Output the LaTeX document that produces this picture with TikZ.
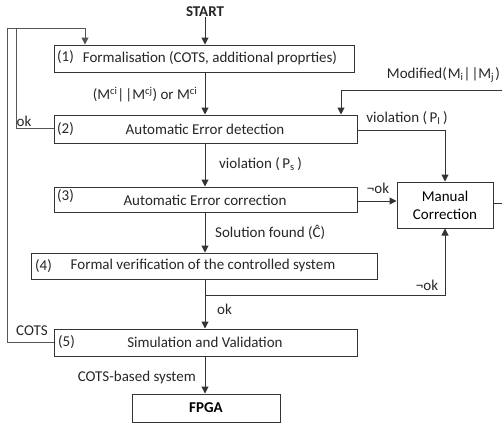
\documentclass[tikz,border=0pt]{standalone}
\usepackage{fontspec}
\setmainfont{Carlito}
\usetikzlibrary{arrows.meta}

\definecolor{linec}{HTML}{333333}
\definecolor{loopc}{HTML}{555555}

\begin{document}
\begin{tikzpicture}[x=1pt,y=-1pt,
  font=\fontsize{15}{17}\selectfont,
  box/.style={draw=linec, line width=1pt, inner sep=0pt},
  txt/.style={inner sep=0pt, text=black!85},
  num/.style={txt, anchor=west},
  conn/.style={draw=linec, line width=1pt},
  arr/.style={conn, -{Triangle[length=7pt,width=7pt]}},
  loopline/.style={draw=loopc, line width=1pt}]

\useasboundingbox (0,0) rectangle (502,423);

% process boxes
\node[box, minimum width=300pt, minimum height=27pt] (b1) at (204,58.5) {};
\node[box, minimum width=303pt, minimum height=28pt] (b2) at (205.5,129) {};
\node[box, minimum width=303pt, minimum height=25pt] (b3) at (205.5,199.5) {};
\node[box, minimum width=346pt, minimum height=26pt] (b4) at (204,266) {};
\node[box, minimum width=303pt, minimum height=27pt] (b5) at (205.5,342.5) {};
\node[box, minimum width=148pt, minimum height=28pt] (fpga) at (206,408) {\textbf{FPGA}};
\node[box, minimum width=96pt, minimum height=46pt, align=center] (mc) at (445,205) {Manual\\[1pt]Correction};

% box texts
\node[txt, font=\fontsize{15}{17}\selectfont\bfseries] (start) at (205,12) {START};
\node[num] (n1) at (57,57.5) {(1)};
\node[txt] (t1) at (210,58.5) {Formalisation (COTS, additional proprties)};
\node[num] (n2) at (57,129) {(2)};
\node[txt] (t2) at (205,129.5) {Automatic Error detection};
\node[num] (n3) at (57,196) {(3)};
\node[txt] (t3) at (205,200) {Automatic Error correction};
\node[num] (n4) at (35,266) {(4)};
\node[txt] (t4) at (203,265.5) {Formal verification of the controlled system};
\node[num] (n5) at (58,342) {(5)};
\node[txt] (t5) at (205,342) {Simulation and Validation};

% connector labels
\node[txt] (l1) at (145,95) {(M\textsuperscript{ci}|\kern1pt|M\textsuperscript{cj}) or M\textsuperscript{ci}};
\node[txt, anchor=west] (l2) at (219,164) {violation (\,P\textsubscript{s}\,)};
\node[txt, anchor=west] (l3) at (215,232) {Solution found (Ĉ)};
\node[txt, anchor=west] (l4) at (217,309) {ok};
\node[txt, anchor=east] (l5) at (196,377) {COTS-based system};
\node[txt] (l6) at (378,188) {¬ok};
\node[txt] (l7) at (427,285) {¬ok};
\node[txt] (l8) at (407,118) {violation (\,P\textsubscript{I}\,)};
\node[txt, anchor=east] (l9) at (500,75) {Modified(\kern1pt M\textsubscript{i}|\kern1pt|M\textsubscript{j}\kern1pt)};
\node[txt] (l10) at (24,121) {ok};
\node[txt] (l11) at (32,331) {COTS};

% routing points
\coordinate (j) at (205,295);
\coordinate (tl) at (7,28);
\coordinate (ti) at (16,28);
\coordinate (ta) at (85,28);
\coordinate (re) at (503,90);
\coordinate (ma) at (341,90);

% main flow
\draw[arr] (start) -- (b1.north -| start);
\draw[arr] (b1.south -| start) -- (b2.north -| start);
\draw[arr] (b2.south -| start) -- (b3.north -| start);
\draw[arr] (b3.south -| start) -- (b4.north -| start);
\draw[arr] (b4.south -| start) -- (b5.north -| start);
\draw[arr] (b5.south -| start) -- (fpga.north -| start);

% manual correction branch
\draw[arr] (b3.east |- 0,201) -- (mc.west |- 0,201);
\draw[arr] (b2.east |- 0,130) -- (mc.north |- 0,130) -- (mc.north);
\draw[arr] (j) -- (mc.south |- j) -- (mc.south);
\draw[arr] (mc.east |- 0,203) -- (re |- 0,203) -- (re) -- (ma) -- (b2.north -| ma);

% feedback loops on the left
\draw[loopline, -{Triangle[length=7pt,width=7pt]}] (b5.west) -- (tl |- b5.west) -- (tl) -- (ta) -- (b1.north -| ta);
\draw[loopline] (b2.west |- 0,128) -- (ti |- 0,128) -- (ti);
\end{tikzpicture}
\end{document}
